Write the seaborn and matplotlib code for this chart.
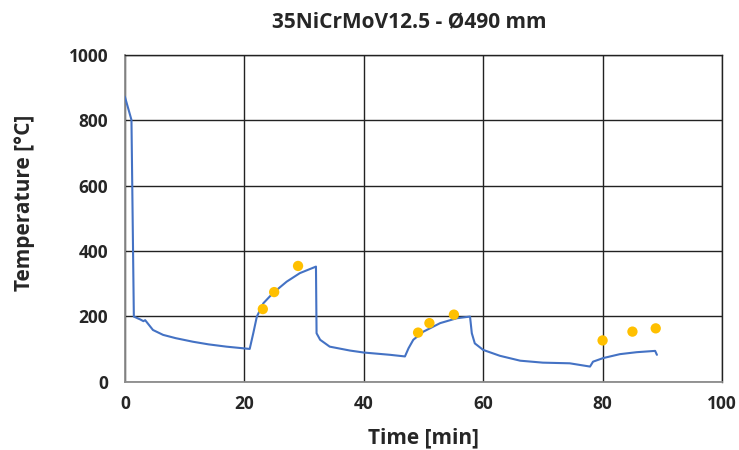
import numpy as np
import pandas as pd
import matplotlib
matplotlib.use("Agg")
import matplotlib.pyplot as plt
import seaborn as sns

# Simulated temperature curve
time_min = [0, 1.1, 1.5, 2.6, 3.1, 3.4, 4.7, 6.4, 8.5, 11.4, 14.0, 17.0, 20.9,
            21.5, 22.1, 23.2, 24.8, 27.1, 29.3, 32.0,
            32.1, 32.7, 34.3, 37.7, 40.0, 44.4, 46.9,
            47.5, 48.3, 50.0, 52.8, 55.6, 57.8,
            58.1, 58.6, 60.0, 62.8, 66.2, 70.0, 74.5, 77.9,
            78.4, 80.1, 82.9, 85.7, 88.8, 89.1]
temp_c = [872, 801, 199, 190, 185, 188, 158, 143, 133, 122, 114, 107, 100,
          148, 199, 240, 271, 306, 332, 352,
          148, 128, 107, 95, 89, 82, 77,
          102, 128, 153, 179, 194, 199,
          148, 117, 97, 79, 64, 58, 56, 46,
          61, 72, 84, 90, 94, 82]

# Measured points
meas_time = [23.1, 25.0, 29.0, 49.1, 51.0, 55.1, 80.0, 85.0, 88.9]
meas_temp = [222, 274, 354, 150, 179, 205, 126, 153, 163]

x_ticks = [0, 20, 40, 60, 80, 100]
y_ticks = [0, 200, 400, 600, 800, 1000]

title = "35NiCrMoV12.5 - Ø490 mm"
x_label = "Time [min]"
y_label = "Temperature [°C]"

sns.set_style("white")
plt.rcParams['font.family'] = ['Open Sans', 'DejaVu Sans']

fig = plt.figure(figsize=(7.39, 4.5), dpi=100)
ax = fig.add_axes([0.169, 0.152, 0.808, 0.726])

curve = pd.DataFrame({"t": time_min, "T": temp_c})
meas = pd.DataFrame({"t": meas_time, "T": meas_temp})

sns.lineplot(data=curve, x="t", y="T", ax=ax, color="#4472C4", linewidth=1.5,
             sort=False, zorder=3)
sns.scatterplot(data=meas, x="t", y="T", ax=ax, color="#FFC000", s=55,
                edgecolor="none", zorder=4)

ax.set_xlim(0, 100)
ax.set_ylim(0, 1000)
ax.set_xticks(x_ticks)
ax.set_yticks(y_ticks)
ax.set_xticklabels([str(v) for v in x_ticks], fontsize=12.5, fontweight="bold")
ax.set_yticklabels([str(v) for v in y_ticks], fontsize=12.5, fontweight="bold")
ax.tick_params(axis="x", length=0, pad=10)
ax.tick_params(axis="y", length=0, pad=12)

ax.grid(True, color="#222222", linewidth=1.0)
ax.set_axisbelow(True)
for side in ["left", "bottom"]:
    ax.spines[side].set_color("#8c8c8c")
    ax.spines[side].set_linewidth(1.3)
for side in ["top", "right"]:
    ax.spines[side].set_color("#222222")
    ax.spines[side].set_linewidth(1.0)

ax.set_xlabel("")
ax.set_ylabel("")
fig.text(0.573, 0.026, x_label, ha="center", va="center", fontsize=15,
         fontweight="bold")
fig.text(0.0325, 0.549, y_label, ha="center", va="center", fontsize=15,
         fontweight="bold", rotation=90)
fig.text(0.554, 0.951, title, ha="center", va="center", fontsize=15,
         fontweight="bold")

fig.savefig("out.png", dpi=100)
